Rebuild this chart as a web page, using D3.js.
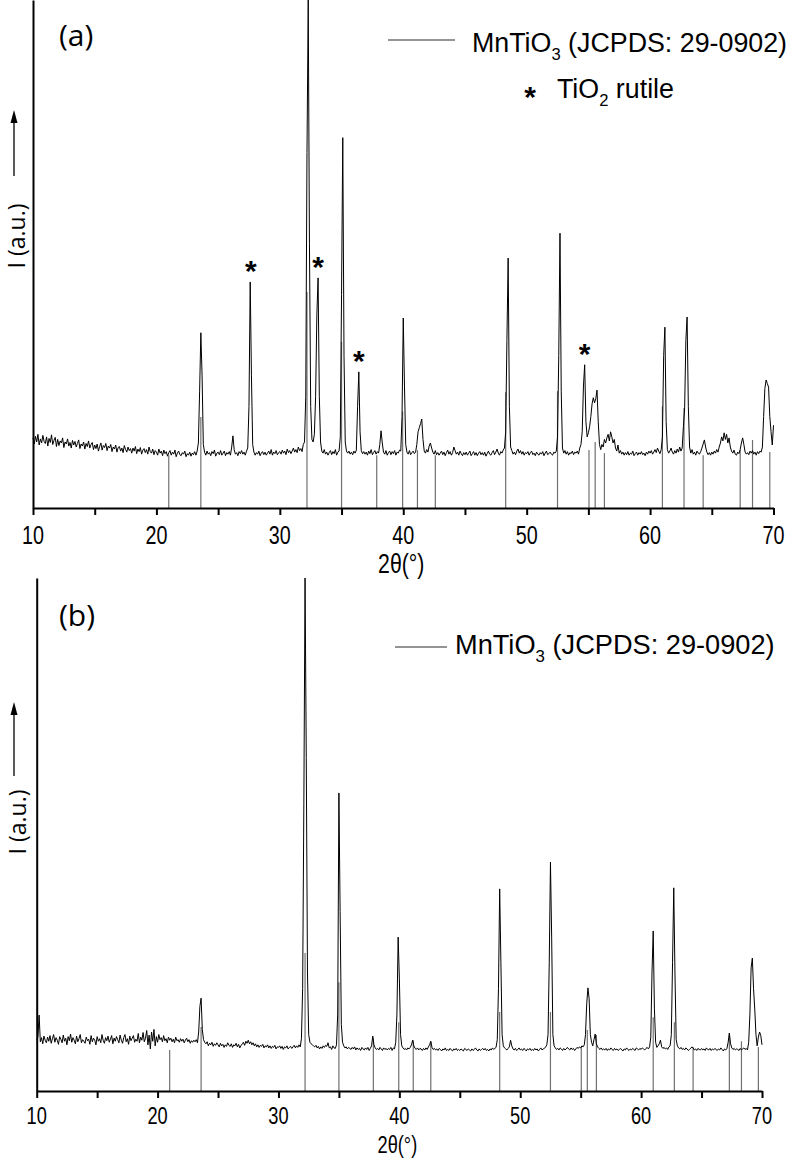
<!DOCTYPE html>
<html><head><meta charset="utf-8">
<script src="https://cdn.jsdelivr.net/npm/d3@7"></script>
<style>body{margin:0;background:#fff}svg{display:block}</style>
</head><body>
<svg id="chart" width="787" height="1159"></svg>
<script>
// ---------- DATA ----------
// 2θ sampling grid: 10.0° … 70.0°, step 0.1°
const angleStart = 10, angleStep = 0.1;

// Panel (a) measured intensity (a.u.), one row per degree (d.0 … d.9)
const intensityA = [
138,126,141,130,145,124,136,128,143,131, // 10
127,140,122,137,129,144,125,133,139,121, // 11
135,123,132,128,138,119,130,126,136,122, // 12
129,118,133,124,131,120,127,134,117,126, // 13
122,130,116,127,121,132,118,125,129,115, // 14
124,117,126,112,121,128,114,123,119,127, // 15
113,122,118,125,111,120,116,124,110,119, // 16
121,112,118,109,123,115,110,120,113,117, // 17
108,118,112,121,107,116,111,119,106,114, // 18
117,109,115,106,120,111,108,116,105,113, // 19
110,104,116,108,112,103,114,107,111,102, // 20
109,113,104,110,106,114,101,108,112,105, // 21
103,109,106,112,101,107,104,110,102,108, // 22
105,111,104,112,128,230,345,260,125,110, // 23
104,112,106,109,103,111,107,114,102,108, // 24
110,105,113,104,108,112,103,109,106,111, // 25
104,120,142,115,106,109,103,111,107,113, // 26
106,110,104,112,118,200,445,260,125,110, // 27
104,109,106,112,103,108,111,105,110,104, // 28
108,112,106,115,104,110,107,113,105,109, // 29
111,106,114,108,112,105,116,109,113,107, // 30
112,118,110,115,109,120,113,117,111,125, // 31
130,220,700,1000,520,200,135,130,145,220, // 32
380,453,220,130,112,108,115,106,110,104, // 33
109,113,105,111,107,115,104,110,112,140, // 34
420,729,300,130,112,108,112,106,110,105, // 35
112,108,114,200,268,150,113,107,111,106, // 36
110,104,112,107,115,105,109,113,106,111, // 37
108,125,152,128,110,106,113,104,109,112, // 38
105,111,107,113,104,110,108,114,112,180, // 39
374,240,125,110,106,113,105,109,112,107, // 40
110,125,150,158,166,175,135,112,108,115, // 41
110,122,128,118,110,106,113,105,109,104, // 42
108,112,105,110,103,109,114,106,111,104, // 43
109,120,113,106,110,104,112,107,103,109, // 44
105,110,104,108,112,103,107,111,104,109, // 45
103,108,111,105,109,104,110,102,107,112, // 46
106,104,109,113,105,110,116,108,104,111, // 47
108,114,118,150,330,492,200,120,113,106, // 48
110,105,112,116,108,113,106,111,104,109, // 49
107,111,104,109,112,105,108,103,110,106, // 50
104,109,106,111,103,108,112,105,107,110, // 51
106,104,110,108,112,140,300,541,230,118, // 52
108,113,106,111,104,109,107,112,105,110, // 53
108,112,106,118,125,150,240,282,170,140, // 54
148,160,180,205,217,207,215,232,170,125, // 55
115,125,120,135,128,138,145,132,150,140, // 56
128,135,118,112,124,108,113,106,110,104, // 57
109,105,111,104,108,106,112,103,107,110, // 58
104,109,106,111,105,108,103,110,106,112, // 59
108,113,106,110,115,109,118,112,107,115, // 60
140,300,356,170,115,108,112,118,110,106, // 61
113,108,116,110,120,112,118,160,197,330, // 62
376,200,120,108,115,106,110,104,112,108, // 63
106,111,118,126,134,120,110,105,109,104, // 64
110,106,112,108,115,110,120,128,140,132, // 65
148,135,145,128,138,120,112,108,114,106, // 66
104,110,107,115,128,138,125,110,106,109, // 67
105,112,108,113,106,110,104,111,107,112, // 68
110,120,180,235,252,245,238,180,150,124, // 69
163                                      // 70
];

// Panel (b) measured intensity (a.u.)
const intensityB = [
100,105,148,96,104,92,107,99,94,105, // 10
97,108,93,102,110,95,104,99,91,106, // 11
101,94,109,97,103,90,106,98,111,95, // 12
104,99,92,107,96,102,110,94,100,97, // 13
93,105,98,101,91,108,96,103,99,90, // 14
106,97,102,94,110,99,93,104,98,107, // 15
95,101,108,92,103,97,106,100,94,109, // 16
99,93,104,110,96,102,91,107,98,103, // 17
108,95,101,97,112,94,105,99,114,96, // 18
103,118,90,109,82,115,97,120,88,106, // 19
95,110,100,104,96,108,98,102,94,105, // 20
99,103,96,101,94,105,98,100,95,102, // 21
97,101,94,99,103,96,100,93,98,95, // 22
99,96,100,94,115,165,181,120,100,95, // 23
92,96,88,93,90,95,87,92,89,94, // 24
90,86,93,88,91,85,90,87,94,89, // 25
87,92,85,90,88,93,86,91,84,89, // 26
91,95,89,97,93,99,92,96,90,94, // 27
88,92,86,90,85,89,87,91,84,88, // 28
86,90,84,88,83,87,85,89,82,86, // 29
85,88,83,87,81,86,84,88,82,85, // 30
87,83,86,89,84,88,85,90,86,102, // 31
200,560,1000,650,230,110,95,92,90,88, // 32
86,89,84,87,82,86,83,88,85,89, // 33
87,94,84,86,81,88,84,83,90,150, // 34
581,350,130,95,88,84,86,82,85,83, // 35
81,85,82,86,80,84,81,83,79,85, // 36
82,80,84,81,85,79,83,88,107,90, // 37
84,81,83,80,85,82,79,84,81,83, // 38
80,83,81,85,79,84,82,95,150,300, // 39
220,110,88,84,81,83,80,84,82,85, // 40
90,99,88,83,81,84,80,83,82,79, // 41
83,80,84,81,86,90,97,85,81,83, // 42
80,82,79,83,81,78,82,80,84,79, // 43
81,79,83,80,78,82,80,83,79,81, // 44
79,82,80,78,83,81,79,82,80,78, // 45
82,79,81,84,80,78,82,79,81,83, // 46
80,83,79,81,78,82,80,84,81,83, // 47
85,100,200,394,250,110,88,84,82,80, // 48
83,86,99,88,82,80,83,79,81,84, // 49
80,82,79,83,81,78,82,80,83,79, // 50
81,79,83,80,82,78,81,84,80,82, // 51
83,86,90,110,250,446,300,110,88,84, // 52
81,83,80,84,82,79,83,80,82,85, // 53
82,80,84,81,83,79,82,85,83,86, // 54
84,88,86,90,110,170,201,180,110,95, // 55
88,100,111,92,86,83,81,84,80,82, // 56
80,83,79,82,80,84,81,79,83,80, // 57
82,79,81,83,80,78,82,80,84,81, // 58
79,82,80,83,81,79,84,82,80,83, // 59
81,84,82,80,83,85,82,86,105,230, // 60
312,160,95,85,88,92,99,86,83,85, // 61
82,84,81,86,88,110,250,396,230,100, // 62
88,84,82,85,81,83,80,84,82,79, // 63
81,83,86,84,80,82,79,83,81,80, // 64
83,80,82,79,84,81,80,83,79,82, // 65
80,83,81,79,82,80,84,81,78,82, // 66
80,83,95,113,92,84,81,83,80,82, // 67
81,79,83,80,82,84,81,83,80,95, // 68
150,240,259,200,160,110,88,105,115,108, // 69
90                                   // 70
];

// MnTiO3 reference pattern (JCPDS 29-0902): line positions (2θ) and drawn heights per panel
const refPositions = [21.0, 23.6, 32.2, 35.0, 37.85, 39.95, 41.15, 42.6, 48.3, 52.5, 55.05, 55.55, 56.3, 61.0, 62.75, 64.3, 67.3, 68.3, 69.7];
const refHeightsA  = [104, 179, 425, 327, 104, 190, 114, 104, 228, 230, 114, 130, 108, 200, 197, 104, 114, 134, 110];
const refHeightsB  = [80, 125, 269, 212, 103, 134, 99, 96, 154, 154, 86, 119, 109, 144, 134, 86, 113, 97, 86];

// TiO2 rutile reflections marked with * in panel (a)
const rutilePositions = [27.65, 33.1, 36.4, 54.7];
const rutileHeights   = [445, 453, 268, 282];

const xDomain = [10, 70];
const yDomain = [0, 1000];
const xMajorTicks = [10, 20, 30, 40, 50, 60, 70];
const xAllTicks = [10, 15, 20, 25, 30, 35, 40, 45, 50, 55, 60, 65, 70];
const xTitle = "2θ(°)";
const yTitle = "I (a.u.)";
const panelLabels = ["(a)", "(b)"];
const refLegend = {main: "MnTiO", sub: "3", rest: " (JCPDS: 29-0902)"};
const rutileLegend = {main: "TiO", sub: "2", rest: " rutile"};

// ---------- LAYOUT ----------
const layout = [
  {data: intensityA, refH: refHeightsA, left: 33, right: 773.5, top: 0, bottom: 508,
   label: {x: 59, y: 46}, ylab: {x: 25, y: 236}, arrow: {x: 14, y0: 176, y1: 110},
   legendLine: {x0: 388, x1: 455, y: 40}, legendText: {x: 472, y: 52, size: 26.8},
   tickBase: 544, titleBase: 573, tickSize: 26, titleSize: 28, rutile: true},
  {data: intensityB, refH: refHeightsB, left: 36.7, right: 762, top: 578, bottom: 1091,
   label: {x: 59, y: 626}, ylab: {x: 26, y: 822}, arrow: {x: 14, y0: 776, y1: 702},
   legendLine: {x0: 395, x1: 447, y: 647}, legendText: {x: 455, y: 654, size: 27.2},
   tickBase: 1124, titleBase: 1153, tickSize: 24, titleSize: 24, rutile: false}
];

const svg = d3.select("#chart");
const stickColor = "#707070";
const narrow = 0.76;

layout.forEach((P, pi) => {
  const x = d3.scaleLinear().domain(xDomain).range([P.left, P.right]);
  const y = d3.scaleLinear().domain(yDomain).range([P.bottom, P.top]);
  const g = svg.append("g");

  // reference sticks
  g.append("g").selectAll("line").data(refPositions).join("line")
    .attr("x1", d => x(d)).attr("x2", d => x(d))
    .attr("y1", y(0)).attr("y2", (d, i) => y(P.refH[i]))
    .attr("stroke", stickColor).attr("stroke-width", 1.2);

  // measured pattern
  const pts = P.data.map((v, i) => [angleStart + i * angleStep, v]);
  g.append("path").datum(pts)
    .attr("d", d3.line().x(d => x(d[0])).y(d => y(d[1])))
    .attr("fill", "none").attr("stroke", "#000").attr("stroke-width", 1)
    .attr("stroke-linejoin", "round");

  // x axis
  const ax = g.append("g").attr("transform", `translate(0,${P.bottom})`)
    .call(d3.axisBottom(x).tickValues(xAllTicks).tickSize(7).tickSizeOuter(0).tickFormat(""));
  ax.select(".domain").attr("stroke", "#000").attr("stroke-width", 2);
  ax.selectAll(".tick line").attr("stroke", "#000").attr("stroke-width", 2);

  // y axis (no ticks)
  const ay = g.append("g").attr("transform", `translate(${P.left},0)`)
    .call(d3.axisLeft(y).tickValues([]).tickSizeOuter(0));
  ay.select(".domain").attr("stroke", "#000").attr("stroke-width", 2);

  // tick labels (narrow)
  g.append("g").selectAll("text").data(xMajorTicks).join("text")
    .attr("transform", d => `translate(${x(d)},${P.tickBase}) scale(${narrow},1)`)
    .attr("text-anchor", "middle")
    .attr("font-family", "'Liberation Sans', Arial, sans-serif")
    .attr("font-size", P.tickSize).attr("fill", "#000")
    .text(d => d);

  // x title
  g.append("text")
    .attr("transform", `translate(${(P.left + P.right) / 2 - 2},${P.titleBase}) scale(${narrow},1)`)
    .attr("text-anchor", "middle")
    .attr("font-family", "'Liberation Sans', Arial, sans-serif")
    .attr("font-size", P.titleSize).attr("fill", "#000")
    .text(xTitle);

  // y title + arrow
  g.append("text")
    .attr("transform", `translate(${P.ylab.x},${P.ylab.y}) rotate(-90)`)
    .attr("text-anchor", "middle")
    .attr("font-family", "'Open Sans', sans-serif")
    .attr("font-size", 23).attr("fill", "#000")
    .text(yTitle);
  g.append("line")
    .attr("x1", P.arrow.x).attr("x2", P.arrow.x)
    .attr("y1", P.arrow.y0).attr("y2", P.arrow.y1 + 10)
    .attr("stroke", "#000").attr("stroke-width", 1.3);
  g.append("path")
    .attr("d", `M${P.arrow.x},${P.arrow.y1} L${P.arrow.x - 3.5},${P.arrow.y1 + 13} L${P.arrow.x + 3.5},${P.arrow.y1 + 13} Z`)
    .attr("fill", "#000");

  // panel label
  g.append("text")
    .attr("x", P.label.x).attr("y", P.label.y)
    .attr("font-family", "'Open Sans', sans-serif")
    .attr("font-size", 30).attr("fill", "#000")
    .text(panelLabels[pi]);

  // legend
  g.append("line")
    .attr("x1", P.legendLine.x0).attr("x2", P.legendLine.x1)
    .attr("y1", P.legendLine.y).attr("y2", P.legendLine.y)
    .attr("stroke", stickColor).attr("stroke-width", 1.5);
  const fs = P.legendText.size;
  const lt = g.append("text")
    .attr("x", P.legendText.x).attr("y", P.legendText.y)
    .attr("font-family", "'Liberation Sans', Arial, sans-serif")
    .attr("font-size", fs).attr("fill", "#000");
  lt.append("tspan").text(refLegend.main);
  lt.append("tspan").attr("font-size", fs * 0.62).attr("dy", fs * 0.3).text(refLegend.sub);
  lt.append("tspan").attr("dy", -fs * 0.3).text(refLegend.rest);

  if (P.rutile) {
    // asterisk markers above rutile peaks
    g.append("g").selectAll("text").data(rutilePositions).join("text")
      .attr("x", d => x(d))
      .attr("y", (d, i) => y(rutileHeights[i]) - 18 + 17)
      .attr("text-anchor", "middle")
      .attr("font-family", "'Liberation Sans', Arial, sans-serif")
      .attr("font-weight", "bold")
      .attr("font-size", 30).attr("fill", "#000")
      .text("*");
    // legend entry
    g.append("text")
      .attr("x", 530).attr("y", 107)
      .attr("text-anchor", "middle")
      .attr("font-family", "'Liberation Sans', Arial, sans-serif")
      .attr("font-weight", "bold")
      .attr("font-size", 30).attr("fill", "#000")
      .text("*");
    const rt = g.append("text")
      .attr("x", 557).attr("y", 98)
      .attr("font-family", "'Liberation Sans', Arial, sans-serif")
      .attr("font-size", fs).attr("fill", "#000");
    rt.append("tspan").text(rutileLegend.main);
    rt.append("tspan").attr("font-size", fs * 0.62).attr("dy", fs * 0.3).text(rutileLegend.sub);
    rt.append("tspan").attr("dy", -fs * 0.3).text(rutileLegend.rest);
  }
});
</script>
</body></html>
